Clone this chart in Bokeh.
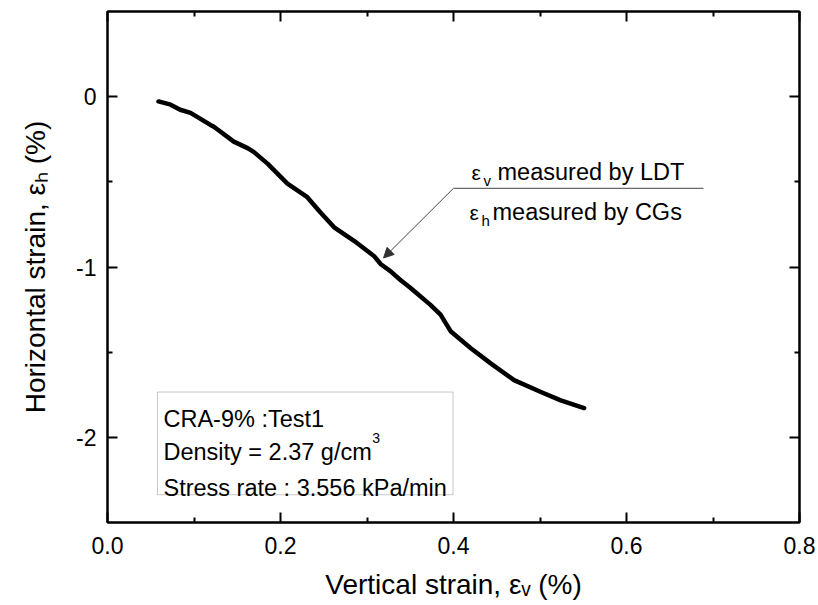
import math
from bokeh.plotting import figure
from bokeh.models import (Label, BoxAnnotation, Arrow, NormalHead, Range1d,
                          FixedTicker, LinearAxis)
from bokeh.embed import file_html
from bokeh.resources import INLINE

# ---- data ----
strain_v = [0.059, 0.073, 0.084, 0.096, 0.119, 0.123, 0.146, 0.162, 0.169, 0.185,
            0.208, 0.231, 0.246, 0.262, 0.285, 0.308, 0.316, 0.327, 0.339, 0.350,
            0.373, 0.385, 0.397, 0.420, 0.443, 0.470, 0.501, 0.524, 0.551]
strain_h = [-0.028, -0.047, -0.077, -0.095, -0.166, -0.177, -0.264, -0.302, -0.324, -0.393,
            -0.511, -0.590, -0.678, -0.767, -0.846, -0.935, -0.984, -1.024, -1.078, -1.122,
            -1.221, -1.280, -1.379, -1.477, -1.566, -1.664, -1.734, -1.783, -1.828]

x_ticks = [0.0, 0.2, 0.4, 0.6, 0.8]
x_tick_labels = ["0.0", "0.2", "0.4", "0.6", "0.8"]
x_minor = [0.1, 0.3, 0.5, 0.7]
y_ticks = [0, -1, -2]
y_tick_labels = ["0", "-1", "-2"]
y_minor = [-0.5, -1.5]

x_title = "Vertical strain, \u03b5\u1d65 (%)"
y_title = "Horizontal strain, \u03b5\u2095 (%)"
info_lines = ["CRA-9% :Test1", "Density = 2.37 g/cm", "Stress rate : 3.556 kPa/min"]

FONT = "Liberation Sans"

p = figure(frame_width=692, frame_height=511,
           min_border_left=107, min_border_right=19, min_border_top=11, min_border_bottom=83,
           x_range=Range1d(0, 0.8), y_range=Range1d(-2.5, 0.5),
           output_backend="svg", toolbar_location=None)
p.grid.visible = False
p.background_fill_color = "white"
p.border_fill_color = "white"
p.outline_line_color = "black"
p.outline_line_width = 2


def style_axis(ax, ticks, minor, labels, standoff):
    ax.ticker = FixedTicker(ticks=ticks, minor_ticks=minor)
    ax.major_label_overrides = {t: l for t, l in zip(ticks, labels)}
    ax.axis_line_color = "black"
    ax.axis_line_width = 2
    ax.major_tick_in = 10
    ax.major_tick_out = 0
    ax.minor_tick_in = 5
    ax.minor_tick_out = 0
    ax.major_tick_line_width = 2
    ax.minor_tick_line_width = 2
    ax.major_tick_line_color = "black"
    ax.minor_tick_line_color = "black"
    ax.major_label_text_font = FONT
    ax.major_label_text_font_size = "23px"
    ax.major_label_text_color = "black"
    ax.major_label_standoff = standoff
    ax.axis_label_text_font = FONT
    ax.axis_label_text_font_size = "28px"
    ax.axis_label_text_font_style = "normal"
    ax.axis_label_text_color = "black"


xa = p.xaxis[0]
ya = p.yaxis[0]
style_axis(xa, x_ticks, x_minor, x_tick_labels, 14)
style_axis(ya, y_ticks, y_minor, y_tick_labels, 11)
xa.axis_label = x_title
xa.axis_label_standoff = 12
ya.axis_label = y_title
ya.axis_label_standoff = 22

# mirrored tick marks on the top and right frame edges, without labels
top_ax = LinearAxis()
right_ax = LinearAxis()
style_axis(top_ax, x_ticks, x_minor, [""] * len(x_ticks), 0)
style_axis(right_ax, y_ticks, y_minor, [""] * len(y_ticks), 0)
p.add_layout(top_ax, "above")
p.add_layout(right_ax, "right")

# ---- curve ----
p.line(strain_v, strain_h, line_width=4.5, color="black", line_join="round", line_cap="round")


def lab(x, y, text, size, align="left", color="black"):
    p.add_layout(Label(x=x, y=y, text=text, text_font=FONT, text_font_size=f"{size}px",
                       text_align=align, text_baseline="alphabetic", text_color=color))


# ---- annotation ----
lab(0.4208, -0.444, "\u03b5", 21)
lab(0.4347, -0.491, "v", 15)
lab(0.4509, -0.444, "measured by LDT", 23.5)
lab(0.4185, -0.680, "\u03b5", 21)
lab(0.4324, -0.728, "h", 15)
lab(0.4451, -0.680, "measured by CGs", 23.5)
p.add_layout(Arrow(end=None, x_start=0.400, y_start=-0.538, x_end=0.689, y_end=-0.538,
                   line_color="#444444", line_width=1))
p.add_layout(Arrow(end=NormalHead(size=10, fill_color="#333333", line_color="#333333"),
                   x_start=0.400, y_start=-0.538, x_end=0.3191, y_end=-0.947,
                   line_color="#444444", line_width=1))

# ---- info box ----
p.add_layout(BoxAnnotation(left=0.0578, right=0.3994, top=-1.734, bottom=-2.337,
                           fill_color=None, line_color="#444444", line_width=1))
lab(0.0647, -1.893, info_lines[0], 23.5)
lab(0.0647, -2.089, info_lines[1], 23.5)
lab(0.3061, -2.006, "3", 14)
lab(0.0647, -2.296, info_lines[2], 23.5)

open("out.html", "w").write(file_html(p, INLINE))
